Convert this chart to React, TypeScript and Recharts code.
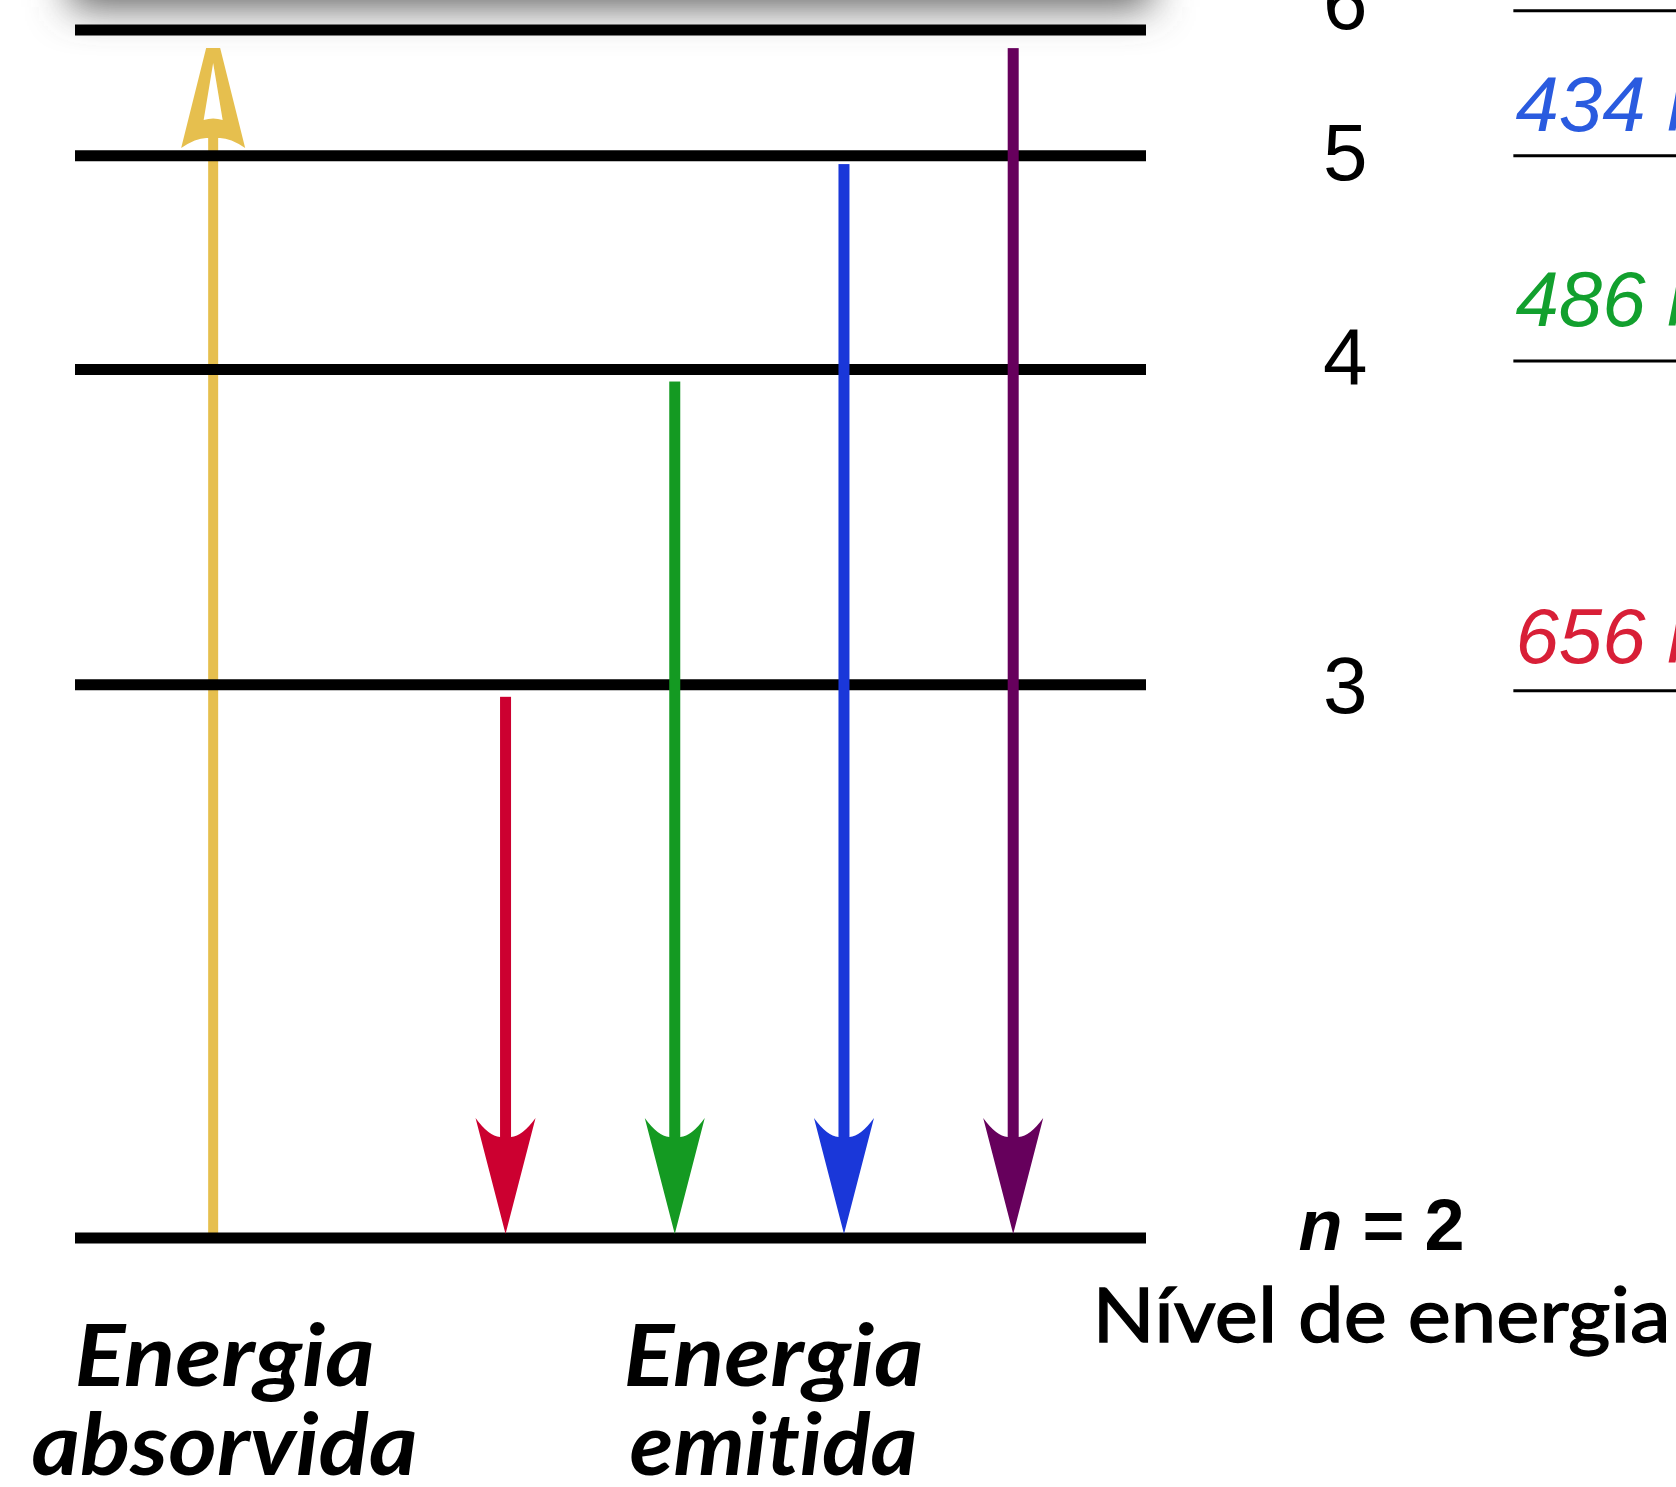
import React from 'react';
import { ComposedChart, XAxis, YAxis, Line, ReferenceLine, ReferenceDot } from 'recharts';

// ---- Data (relative energy: n=2 -> 0, n=6 -> 100) ----
const levelN = [2, 3, 4, 5, 6];
const levelEnergy = [0, 45.8, 71.9, 89.6, 100];
const levelLabels = ['n = 2', '3', '4', '5', '6'];

// absorbed transition (n=2 -> n=6)
const absorbedX = [1.29];
const absorbedStartE = [0];
const absorbedTipE = [98.5];

// emitted transitions (n -> 2)
const emittedFromN = [3, 4, 5, 6];
const emittedX = [4.02, 5.6, 7.18, 8.76];
const emittedStartE = [44.8, 70.9, 88.9, 98.5];
const emittedTipE = [0, 0, 0, 0];

// spectral lines (partly cut off at the right edge)
const wavelengthLabels = ['434 nm', '486 nm', '656 nm'];
const wavelengthLabelE = [91.6, 75.5, 47.6];
const spectrumLineE = [101.6, 89.6, 72.6, 45.3];

// captions
const captionTop = ['Energia', 'Energia'];
const captionBottom = ['absorvida', 'emitida'];
const captionX = [1.396, 6.522];
const axisTitle = 'Nível de energia';

// ---- Styles ----
const W = 1676;
const H = 1487;
const LEVEL_STROKE = 11;
const ABSORB_COLOR = '#E6BF4E';
const EMIT_COLORS = ['#CC0030', '#149A22', '#1A37D9', '#66005C'];
const WAVE_COLORS = ['#2A5BDF', '#12A02E', '#D81F37'];
const LEVEL_LABEL_X = 11.86;
const N2_LABEL_X = 12.2;
const WAVE_X = 13.45;
const LEVEL_LABEL_DY: Record<number, number> = { 2: 12, 3: 28, 4: 14.5, 5: 24, 6: -1 };
const NO_LIG = { fontVariantLigatures: 'none' as const, fontFeatureSettings: '"liga" 0, "clig" 0' };

const levelRows = levelN.map((n, i) => ({ x: 10, e: levelEnergy[i], n }));

const ShadowShape = (props: any) => {
  const { x1, x2, y1 } = props;
  return (
    <g>
      <defs>
        <filter id="topShadow" x="-20%" y="-100%" width="140%" height="300%">
          <feGaussianBlur stdDeviation="20" />
        </filter>
      </defs>
      <rect x={x1 - 5} y={y1 - 258} width={x2 - x1 + 10} height={235} fill="#5c5c5c" filter="url(#topShadow)" />
    </g>
  );
};

const AbsorbShape = (props: any) => {
  const { x1, y1, y2 } = props;
  const x = x1;
  const t = y2;
  const outer = `M${x - 7},${t} L${x + 7},${t} L${x + 32},${t + 100} Q${x + 16},${t + 89} ${x + 5},${t + 90} L${x - 5},${t + 90} Q${x - 16},${t + 89} ${x - 32},${t + 100} Z`;
  const hole = `M${x},${t + 15} L${x + 9.5},${t + 72} Q${x},${t + 69} ${x - 9.5},${t + 72} Z`;
  return (
    <g>
      <rect x={x - 5} y={t + 88} width={10} height={y1 - (t + 88)} fill={ABSORB_COLOR} />
      <path d={`${outer} ${hole}`} fill={ABSORB_COLOR} fillRule="evenodd" />
    </g>
  );
};

const makeEmitShape = (color: string) => (props: any) => {
  const { x1, y1, y2 } = props;
  const x = x1;
  const tip = y2 - 4;
  const notch = tip - 97;
  const d = `M${x},${tip} L${x - 30},${tip - 116} Q${x - 17},${tip - 98} ${x - 5.5},${notch} L${x + 5.5},${notch} Q${x + 17},${tip - 98} ${x + 30},${tip - 116} Z`;
  return (
    <g>
      <rect x={x - 5.5} y={y1} width={11} height={notch - y1 + 2} fill={color} />
      <path d={d} fill={color} />
    </g>
  );
};

const LevelLabel = (text: string, n: number) => (props: any) => {
  const { cx, cy } = props;
  if (n === 2) {
    return (
      <text x={cx} y={cy + LEVEL_LABEL_DY[n]} textAnchor="middle" fontFamily="Liberation Sans" fontWeight="bold" fontSize={72} fill="#000" textLength={166} lengthAdjust="spacing">
        <tspan fontStyle="italic">n</tspan> = 2
      </text>
    );
  }
  return (
    <text x={cx} y={cy + LEVEL_LABEL_DY[n]} textAnchor="middle" fontFamily="Liberation Sans" fontSize={80} fill="#000">
      {text}
    </text>
  );
};

const AxisTitleShape = (props: any) => {
  const { cx, cy } = props;
  return (
    <text x={cx} y={cy + 104} textAnchor="middle" fontFamily="Lato" fontSize={76} fill="#000" stroke="#000" strokeWidth={1.4} textLength={578} lengthAdjust="spacingAndGlyphs" style={NO_LIG}>
      {axisTitle}
    </text>
  );
};

const WaveLabel = (text: string, color: string) => (props: any) => {
  const { cx, cy } = props;
  return (
    <text x={cx} y={cy} fontFamily="Liberation Sans" fontStyle="italic" fontSize={78} fill={color}>
      {text}
    </text>
  );
};

const CaptionShape = (top: string, bottom: string) => (props: any) => {
  const { cx, cy } = props;
  return (
    <g fontFamily="Lato" fontWeight="bold" fontStyle="italic" fontSize={86} fill="#000" style={NO_LIG}>
      <text x={cx} y={cy + 148} textAnchor="middle" textLength={300} lengthAdjust="spacingAndGlyphs" style={NO_LIG}>{top}</text>
      <text x={cx} y={cy + 237} textAnchor="middle" textLength={bottom === 'absorvida' ? 386 : 288} lengthAdjust="spacingAndGlyphs" style={NO_LIG}>{bottom}</text>
    </g>
  );
};

export default function App() {
  return (
    <div style={{ position: 'absolute', left: 0, top: 0, width: W, height: H, background: '#fff' }}>
      <ComposedChart width={W} height={H} data={levelRows} margin={{ top: 30, right: 530, bottom: 249, left: 75 }}>
        <XAxis type="number" dataKey="x" domain={[0, 10]} hide allowDataOverflow />
        <YAxis type="number" domain={[0, 100]} hide allowDataOverflow />
        <Line dataKey="e" stroke="none" dot={false} activeDot={false} isAnimationActive={false} legendType="none" />

        {/* shadow above the top level */}
        <ReferenceLine
          segment={[{ x: 0, y: levelEnergy[4] }, { x: 10, y: levelEnergy[4] }]}
          ifOverflow="visible"
          shape={ShadowShape}
        />

        {/* absorbed energy arrow (under the level lines) */}
        {absorbedX.map((x, i) => (
          <ReferenceLine
            key={`abs-${i}`}
            segment={[{ x, y: absorbedStartE[i] }, { x, y: absorbedTipE[i] }]}
            ifOverflow="visible"
            shape={AbsorbShape}
          />
        ))}

        {/* energy levels */}
        {levelEnergy.map((e, i) => (
          <ReferenceLine
            key={`lvl-${i}`}
            segment={[{ x: 0, y: e }, { x: 10, y: e }]}
            stroke="#000"
            strokeWidth={LEVEL_STROKE}
            ifOverflow="visible"
          />
        ))}

        {/* emitted energy arrows */}
        {emittedX.map((x, i) => (
          <ReferenceLine
            key={`emit-${emittedFromN[i]}`}
            segment={[{ x, y: emittedStartE[i] }, { x, y: emittedTipE[i] }]}
            ifOverflow="visible"
            shape={makeEmitShape(EMIT_COLORS[i])}
          />
        ))}

        {/* spectral lines at the right edge */}
        {spectrumLineE.map((e, i) => (
          <ReferenceLine
            key={`spec-${i}`}
            segment={[{ x: WAVE_X - 0.02, y: e }, { x: 16, y: e }]}
            stroke="#000"
            strokeWidth={3}
            ifOverflow="visible"
          />
        ))}
        {wavelengthLabels.map((t, i) => (
          <ReferenceDot key={`wl-${i}`} x={WAVE_X} y={wavelengthLabelE[i]} ifOverflow="visible" shape={WaveLabel(t, WAVE_COLORS[i])} />
        ))}

        {/* level labels */}
        {levelLabels.map((t, i) => (
          <ReferenceDot
            key={`ll-${i}`}
            x={levelN[i] === 2 ? N2_LABEL_X : LEVEL_LABEL_X}
            y={levelEnergy[i]}
            ifOverflow="visible"
            shape={LevelLabel(t, levelN[i])}
          />
        ))}
        <ReferenceDot x={N2_LABEL_X} y={levelEnergy[0]} ifOverflow="visible" shape={AxisTitleShape} />

        {/* captions */}
        {captionX.map((x, i) => (
          <ReferenceDot key={`cap-${i}`} x={x} y={levelEnergy[0]} ifOverflow="visible" shape={CaptionShape(captionTop[i], captionBottom[i])} />
        ))}
      </ComposedChart>
    </div>
  );
}
